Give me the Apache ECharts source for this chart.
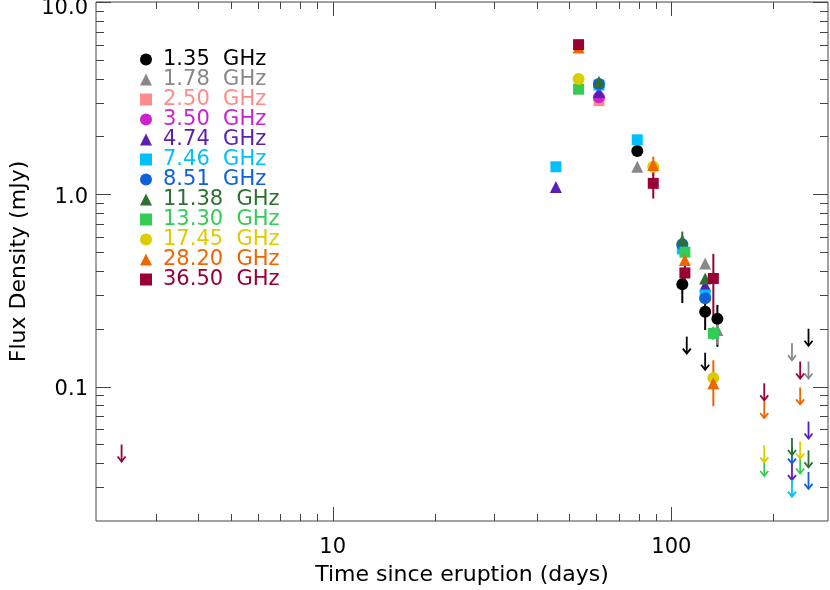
<!DOCTYPE html>
<html><head><meta charset="utf-8">
<script src="https://cdn.jsdelivr.net/npm/echarts@6.0.0/dist/echarts.min.js"></script>
<style>html,body{margin:0;padding:0;background:#fff}#c{width:830px;height:590px}</style>
</head><body><div id="c"></div>
<script>
// ---- legend / series definitions ----
const freqNames = ['1.35  GHz','1.78  GHz','2.50  GHz','3.50  GHz','4.74  GHz','7.46  GHz','8.51  GHz','11.38  GHz','13.30  GHz','17.45  GHz','28.20  GHz','36.50  GHz'];
const freqColors = ['#000000','#888888','#ff8c8c','#cc22cc','#5a1eb4','#00c0ff','#1060d8','#2e7030','#33cc55','#ddcc00','#ee6600','#990033'];
const freqSymbols = ['circle','triangle','rect','circle','triangle','rect','circle','triangle','rect','circle','triangle','rect'];

// ---- detections [days, flux mJy] ----
const det135 = [[79.3,1.68],[107.7,0.341],[125.8,0.245],[136.7,0.225]];
const det178 = [[79.3,1.39],[125.8,0.437],[136.7,0.197]];
const det250 = [[61.1,3.07]];
const det350 = [[61.1,3.2]];
const det474 = [[45.6,1.09],[61.1,3.4],[125.8,0.337]];
const det746 = [[45.6,1.39],[61.1,3.7],[79.3,1.92],[107.7,0.52],[125.8,0.299]];
const det851 = [[61.1,3.75],[107.7,0.55],[125.8,0.288]];
const det1138 = [[61.1,3.85],[107.7,0.577],[125.8,0.365]];
const det1330 = [[53.2,3.52],[109.6,0.50],[133.0,0.189]];
const det1745 = [[53.2,3.98],[88.4,1.39],[133.0,0.111]];
const det2820 = [[53.2,5.8],[88.4,1.42],[109.6,0.455],[133.0,0.104]];
const det3650 = [[53.2,6.0],[88.4,1.14],[109.6,0.39],[133.0,0.365]];

// ---- error bars [days, low, high] ----
const err135 = [[107.7,0.272,0.41],[125.8,0.197,0.29],[136.7,0.161,0.266]];
const err178 = [[136.7,0.165,0.23]];
const err474 = [[125.8,0.31,0.36]];
const err1138 = [[107.7,0.50,0.64]];
const err1330 = [[133.0,0.175,0.205]];
const err2820 = [[88.4,1.25,1.57],[109.6,0.40,0.51],[133.0,0.079,0.137]];
const err3650 = [[88.4,0.95,1.33],[109.6,0.35,0.44],[133.0,0.23,0.49]];

// ---- upper limits [days, flux mJy] ----
const lim135 = [[111.0,0.182],[125.8,0.15],[254,0.2]];
const lim178 = [[227,0.168],[254,0.135]];
const lim474 = [[227,0.040],[254,0.0658]];
const lim746 = [[227,0.0328]];
const lim851 = [[227,0.0488],[254,0.036]];
const lim1138 = [[227,0.054],[254,0.0466]];
const lim1330 = [[188,0.042],[240,0.0433]];
const lim1745 = [[188,0.0495],[240,0.0518]];
const lim2820 = [[188,0.084],[240,0.099]];
const lim3650 = [[2.38,0.050],[188,0.104],[240,0.135]];

// ---- axis ticks ----
const xMajorTicks = [10,100];
const xMinorTicks = [3,4,5,6,7,8,9,20,30,40,50,60,70,80,90,200];
const yMajorTicks = [0.1,1,10];
const yMinorTicks = [0.03,0.04,0.05,0.06,0.07,0.08,0.09,0.2,0.3,0.4,0.5,0.6,0.7,0.8,0.9,2,3,4,5,6,7,8,9];
const xRange = [2,290];
const yRange = [0.02,10];

const detections = [det135,det178,det250,det350,det474,det746,det851,det1138,det1330,det1745,det2820,det3650];
const errors = [err135,err178,[],[],err474,[],[],err1138,err1330,[],err2820,err3650];
const limits = [lim135,lim178,[],[],lim474,lim746,lim851,lim1138,lim1330,lim1745,lim2820,lim3650];

const FONT = 'DejaVu Sans';
const chart = echarts.init(document.getElementById('c'), null, {renderer:'canvas'});

const series = [];
// error bars
const errData = [];
errors.forEach((arr,i)=>arr.forEach(e=>errData.push([e[0],e[1],e[2],i])));
series.push({
  type:'custom', name:'errbars', silent:true, z:2,
  encode:{x:0,y:[1,2]},
  data: errData,
  renderItem:(params,api)=>{
    const a = api.coord([api.value(0),api.value(1)]);
    const b = api.coord([api.value(0),api.value(2)]);
    return {type:'line', shape:{x1:a[0],y1:a[1],x2:b[0],y2:b[1]},
      style:{stroke:freqColors[api.value(3)], lineWidth:2}};
  }
});
// detections
detections.forEach((arr,i)=>{
  series.push({
    type:'scatter', name:freqNames[i], data:arr, z:3,
    symbol:freqSymbols[i], symbolSize: freqSymbols[i]==='rect'?11:12,
    itemStyle:{color:freqColors[i], opacity:1},
    emphasis:{disabled:true}
  });
});
// upper limit arrows
const limData = [];
limits.forEach((arr,i)=>arr.forEach(e=>limData.push([e[0],e[1],i])));
series.push({
  type:'custom', name:'limits', silent:true, z:4,
  encode:{x:0,y:1},
  data: limData,
  renderItem:(params,api)=>{
    const p = api.coord([api.value(0),api.value(1)]);
    const c = freqColors[api.value(2)];
    const L = 17;
    return {type:'group', children:[
      {type:'line', shape:{x1:p[0],y1:p[1],x2:p[0],y2:p[1]+L}, style:{stroke:c,lineWidth:1.8}},
      {type:'polyline', shape:{points:[[p[0]-4,p[1]+L-5],[p[0],p[1]+L],[p[0]+4,p[1]+L-5]]}, style:{stroke:c,lineWidth:1.8,fill:null}}
    ]};
  }
});
// tick marks on all four sides
const tickData = [];
xMajorTicks.forEach(v=>tickData.push([0,v,1,14]));
xMinorTicks.forEach(v=>tickData.push([0,v,1,7]));
yMajorTicks.forEach(v=>tickData.push([1,10,v,15]));
yMinorTicks.forEach(v=>tickData.push([1,10,v,8]));
series.push({
  type:'custom', name:'ticks', silent:true, z:5,
  encode:{x:1,y:2},
  data: tickData,
  renderItem:(params,api)=>{
    const cs = params.coordSys;
    const kind = api.value(0), len = api.value(3);
    const st = {stroke:'#444', lineWidth:1};
    if (kind===0){
      const x = Math.round(api.coord([api.value(1),1])[0])+0.5;
      const yb = cs.y+cs.height, yt = cs.y;
      return {type:'group',children:[
        {type:'line',shape:{x1:x,y1:yb,x2:x,y2:yb-len},style:st},
        {type:'line',shape:{x1:x,y1:yt,x2:x,y2:yt+len},style:st}]};
    } else {
      const y = Math.round(api.coord([10,api.value(2)])[1])+0.5;
      const xl = cs.x, xr = cs.x+cs.width;
      return {type:'group',children:[
        {type:'line',shape:{x1:xl,y1:y,x2:xl+len,y2:y},style:st},
        {type:'line',shape:{x1:xr,y1:y,x2:xr-len,y2:y},style:st}]};
    }
  }
});

chart.setOption({
  animation:false,
  backgroundColor:'#ffffff',
  grid:{left:96,right:2,top:2,bottom:69,show:true,borderColor:'#444',borderWidth:1,containLabel:false,outerBoundsMode:'none'},
  legend:{
    orient:'vertical', left:135, top:44, itemWidth:12, itemHeight:12, itemGap:-1,
    selectedMode:false,
    textStyle:{fontFamily:FONT,fontSize:21,lineHeight:20,padding:[0,0,0,6]},
    data: freqNames.map((n,i)=>({name:n, textStyle:{color:freqColors[i]}}))
  },
  xAxis:{
    type:'log', logBase:10, min:xRange[0], max:xRange[1],
    name:'Time since eruption (days)', nameLocation:'middle', nameGap:43,
    nameTextStyle:{fontFamily:FONT,fontSize:22,color:'#000'},
    axisLine:{show:false}, axisTick:{show:false}, splitLine:{show:false}, minorTick:{show:false},
    axisLabel:{showMinLabel:false,showMaxLabel:false,fontFamily:FONT,fontSize:21,color:'#000',margin:16,
      formatter:v=>String(Math.round(v))}
  },
  yAxis:{
    type:'log', logBase:10, min:yRange[0], max:yRange[1],
    name:'Flux Density (mJy)', nameLocation:'middle', nameGap:66,
    nameTextStyle:{fontFamily:FONT,fontSize:22,color:'#000'},
    axisLine:{show:false}, axisTick:{show:false}, splitLine:{show:false}, minorTick:{show:false},
    axisLabel:{showMinLabel:false,fontFamily:FONT,fontSize:21,color:'#000',margin:8,
      formatter:v=>{const s=(v).toFixed(1); return v>=9.99?'{t|'+s+'}':'{n|'+s+'}';},
      rich:{t:{fontFamily:FONT,fontSize:21,color:'#000',padding:[14,0,0,0]},
            n:{fontFamily:FONT,fontSize:21,color:'#000',padding:[6,0,0,0]}}}
  },
  series: series
});
</script></body></html>
